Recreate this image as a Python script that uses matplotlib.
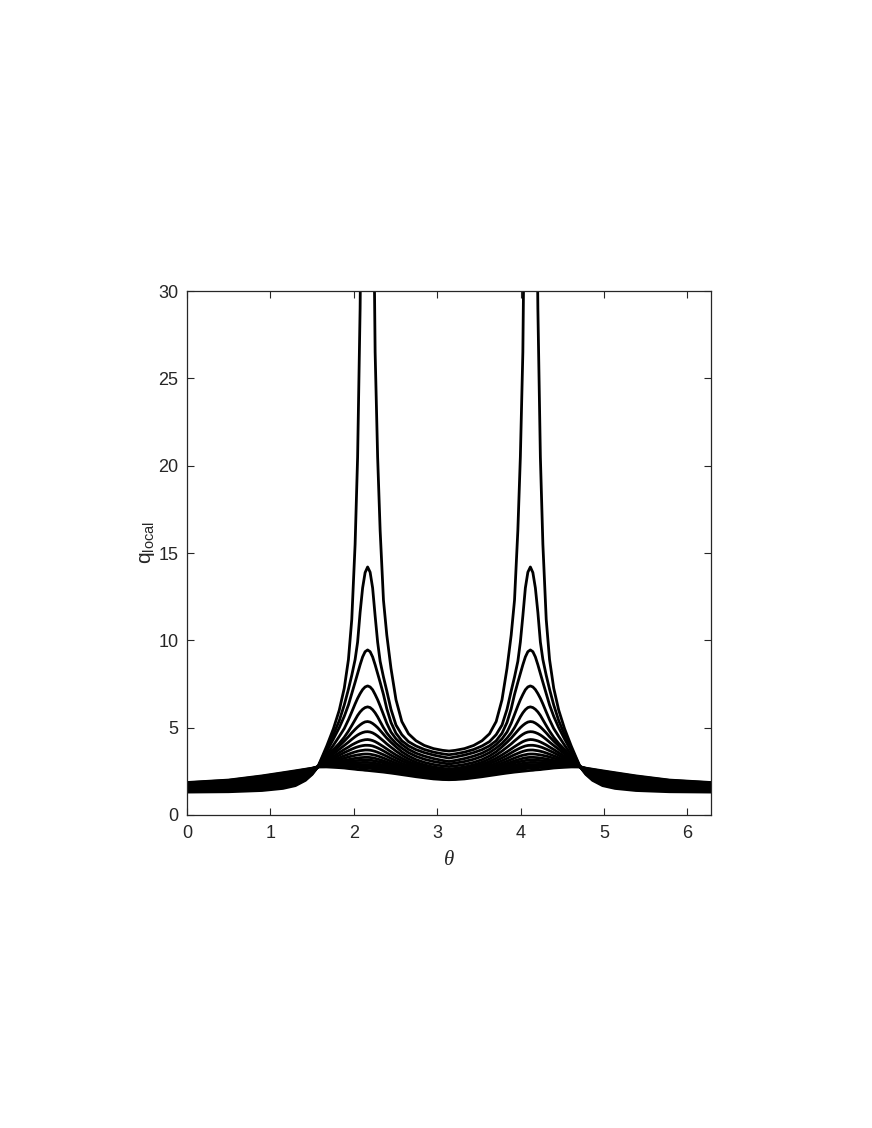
import numpy as np
import matplotlib
matplotlib.use("Agg")
import matplotlib.pyplot as plt

plt.rcParams['font.family'] = ['Liberation Sans', 'DejaVu Sans']
plt.rcParams['mathtext.fontset'] = 'custom'
plt.rcParams['mathtext.rm'] = 'Liberation Sans'
plt.rcParams['mathtext.it'] = 'Liberation Sans:italic'

# half curves on [0, pi]; the other half is the mirror image about pi
theta_half = [0, 0.5, 0.9, 1.15, 1.3, 1.42, 1.5,
              1.57, 1.676, 1.756, 1.826, 1.886, 1.936, 1.976, 2.016, 2.046, 2.076, 2.106, 2.136,
              2.166,
              2.196, 2.226, 2.256, 2.286, 2.316, 2.356, 2.396, 2.446, 2.506, 2.576, 2.656, 2.746,
              2.846, 2.956, 3.066, 3.1416]

# outermost surface (its peaks run off the top of the axes)
theta_sep = [0, 0.5, 0.9, 1.15, 1.3, 1.42, 1.5,
             1.57, 1.676, 1.756, 1.826, 1.886, 1.936, 1.976, 2.016, 2.046, 2.076, 2.091, 2.106, 2.136,
             2.166,
             2.196, 2.226, 2.241, 2.256, 2.286, 2.316, 2.356, 2.396, 2.446, 2.506, 2.576, 2.656, 2.746,
             2.846, 2.956, 3.066, 3.1416]
q_sep = [1.31, 1.33, 1.40, 1.52, 1.68, 1.98, 2.32,
         2.76, 3.95, 4.94, 6.00, 7.26, 8.9, 11.2, 15.5, 20.5, 29.0, 36.0, 44.6, 119.6,
         300,
         119.6, 44.5, 33.5, 26.5, 20.5, 16.3, 12.3, 10.3, 8.4, 6.6, 5.35, 4.65, 4.25,
         3.98, 3.80, 3.70, 3.66]

q_curves = [
    [1.36, 1.39, 1.48, 1.60, 1.76, 2.04, 2.35,
     2.76, 3.80, 4.60, 5.40, 6.30, 7.20, 8.00, 8.90, 9.90, 11.6, 13.0, 13.88, 14.20,
     13.90, 13.00, 11.40, 9.90, 8.80, 7.90, 7.10, 6.05, 5.15, 4.60, 4.20, 3.95, 3.75, 3.60, 3.50, 3.45],
    [1.41, 1.45, 1.55, 1.68, 1.83, 2.10, 2.39,
     2.76, 3.65, 4.35, 5.00, 5.65, 6.30, 6.95, 7.60, 8.10, 8.60, 9.05, 9.35, 9.45,
     9.35, 9.05, 8.60, 8.10, 7.60, 6.90, 6.08, 5.30, 4.68, 4.25, 3.96, 3.74, 3.57, 3.43, 3.32, 3.26],
    [1.46, 1.51, 1.63, 1.77, 1.91, 2.15, 2.42,
     2.76, 3.45, 4.00, 4.50, 4.95, 5.45, 5.90, 6.36, 6.68, 6.95, 7.18, 7.33, 7.39,
     7.33, 7.17, 6.90, 6.60, 6.25, 5.75, 5.25, 4.75, 4.36, 4.04, 3.76, 3.54, 3.37, 3.23, 3.12, 3.06],
    [1.51, 1.57, 1.71, 1.85, 1.99, 2.21, 2.45,
     2.76, 3.32, 3.75, 4.10, 4.45, 4.80, 5.12, 5.45, 5.70, 5.90, 6.05, 6.15, 6.19,
     6.15, 6.03, 5.85, 5.62, 5.35, 5.00, 4.70, 4.40, 4.10, 3.83, 3.57, 3.36, 3.19, 3.06, 2.97, 2.92],
    [1.55, 1.62, 1.77, 1.91, 2.05, 2.26, 2.48,
     2.76, 3.22, 3.62, 3.95, 4.23, 4.48, 4.70, 4.90, 5.04, 5.16, 5.26, 5.33, 5.35,
     5.32, 5.24, 5.13, 5.00, 4.84, 4.62, 4.40, 4.16, 3.90, 3.62, 3.38, 3.17, 3.01, 2.89, 2.81, 2.77],
    [1.59, 1.67, 1.83, 1.98, 2.11, 2.31, 2.50,
     2.76, 3.14, 3.49, 3.76, 3.98, 4.17, 4.33, 4.48, 4.58, 4.66, 4.72, 4.76, 4.77,
     4.75, 4.70, 4.62, 4.52, 4.40, 4.24, 4.07, 3.88, 3.66, 3.43, 3.21, 3.02, 2.87, 2.75, 2.67, 2.63],
    [1.63, 1.72, 1.89, 2.04, 2.17, 2.35, 2.53,
     2.76, 3.07, 3.35, 3.57, 3.75, 3.89, 4.01, 4.11, 4.18, 4.24, 4.28, 4.31, 4.32,
     4.30, 4.26, 4.20, 4.12, 4.03, 3.91, 3.78, 3.62, 3.44, 3.25, 3.06, 2.90, 2.76, 2.65, 2.56, 2.51],
    [1.66, 1.76, 1.93, 2.09, 2.22, 2.39, 2.55,
     2.76, 3.01, 3.24, 3.42, 3.57, 3.68, 3.77, 3.85, 3.90, 3.94, 3.97, 3.99, 3.99,
     3.98, 3.95, 3.90, 3.84, 3.77, 3.67, 3.56, 3.42, 3.27, 3.10, 2.94, 2.79, 2.66, 2.55, 2.46, 2.41],
    [1.69, 1.79, 1.98, 2.14, 2.27, 2.42, 2.57,
     2.76, 2.96, 3.13, 3.28, 3.39, 3.48, 3.55, 3.61, 3.65, 3.68, 3.70, 3.72, 3.72,
     3.71, 3.68, 3.64, 3.59, 3.53, 3.45, 3.36, 3.24, 3.11, 2.96, 2.82, 2.69, 2.57, 2.46, 2.37, 2.32],
    [1.72, 1.83, 2.03, 2.19, 2.31, 2.46, 2.59,
     2.76, 2.92, 3.05, 3.16, 3.25, 3.32, 3.37, 3.41, 3.44, 3.46, 3.48, 3.49, 3.49,
     3.48, 3.45, 3.42, 3.38, 3.33, 3.26, 3.18, 3.08, 2.97, 2.84, 2.71, 2.59, 2.48, 2.38, 2.30, 2.26],
    [1.74, 1.85, 2.06, 2.22, 2.34, 2.48, 2.60,
     2.76, 2.88, 2.98, 3.06, 3.12, 3.17, 3.21, 3.24, 3.26, 3.28, 3.29, 3.30, 3.30,
     3.29, 3.27, 3.24, 3.20, 3.16, 3.10, 3.03, 2.95, 2.85, 2.74, 2.62, 2.51, 2.41, 2.32, 2.25, 2.21],
    [1.76, 1.88, 2.09, 2.26, 2.38, 2.50, 2.61,
     2.76, 2.85, 2.92, 2.98, 3.03, 3.06, 3.09, 3.11, 3.12, 3.13, 3.14, 3.15, 3.15,
     3.14, 3.12, 3.09, 3.06, 3.03, 2.98, 2.92, 2.85, 2.76, 2.66, 2.55, 2.45, 2.35, 2.27, 2.20, 2.17],
    [1.78, 1.90, 2.12, 2.29, 2.41, 2.53, 2.63,
     2.76, 2.82, 2.87, 2.91, 2.94, 2.96, 2.98, 2.99, 3.00, 3.00, 3.01, 3.01, 3.01,
     3.00, 2.98, 2.96, 2.93, 2.90, 2.86, 2.81, 2.75, 2.67, 2.58, 2.49, 2.39, 2.30, 2.22, 2.16, 2.14],
    [1.80, 1.93, 2.15, 2.32, 2.44, 2.55, 2.64,
     2.76, 2.80, 2.83, 2.85, 2.87, 2.88, 2.89, 2.89, 2.89, 2.89, 2.89, 2.89, 2.89,
     2.88, 2.86, 2.84, 2.82, 2.79, 2.76, 2.71, 2.66, 2.59, 2.51, 2.43, 2.34, 2.26, 2.18, 2.13, 2.11],
    [1.82, 1.95, 2.18, 2.35, 2.47, 2.57, 2.65,
     2.76, 2.77, 2.78, 2.79, 2.80, 2.80, 2.80, 2.80, 2.80, 2.80, 2.79, 2.79, 2.78,
     2.77, 2.75, 2.73, 2.71, 2.69, 2.66, 2.62, 2.58, 2.52, 2.45, 2.38, 2.30, 2.22, 2.15, 2.10, 2.08],
    [1.84, 1.98, 2.21, 2.39, 2.50, 2.60, 2.67,
     2.76, 2.77, 2.78, 2.77, 2.76, 2.75, 2.74, 2.73, 2.72, 2.71, 2.70, 2.69, 2.68,
     2.67, 2.65, 2.63, 2.61, 2.60, 2.57, 2.54, 2.50, 2.45, 2.39, 2.33, 2.25, 2.18, 2.11, 2.07, 2.05],
    [1.86, 2.00, 2.24, 2.42, 2.53, 2.62, 2.68,
     2.76, 2.75, 2.73, 2.71, 2.69, 2.66, 2.64, 2.62, 2.60, 2.59, 2.58, 2.56, 2.55,
     2.535, 2.52, 2.505, 2.49, 2.475, 2.455, 2.43, 2.40, 2.36, 2.31, 2.255, 2.19, 2.13, 2.065, 2.03, 2.02],
]


def full_curve(th, q):
    th = np.array(th)
    q = np.array(q)
    th_all = np.concatenate([th, 2 * np.pi - th[::-1][1:]])
    q_all = np.concatenate([q, q[::-1][1:]])
    return th_all, q_all


fig = plt.figure(figsize=(8.72, 11.28), dpi=100)
ax = fig.add_axes([0.2144, 0.2775, 0.601, 0.4645])

lw = 2.0
x, y = full_curve(theta_sep, q_sep)
ax.plot(x, y, color='k', linewidth=lw)
for q in q_curves:
    x, y = full_curve(theta_half, q)
    ax.plot(x, y, color='k', linewidth=lw)

ax.set_xlim(0, 2 * np.pi)
ax.set_ylim(0, 30)
ax.set_xticks([0, 1, 2, 3, 4, 5, 6])
ax.set_yticks([0, 5, 10, 15, 20, 25, 30])
ax.tick_params(direction='in', top=True, right=True, length=5, width=0.8,
               labelsize=13, colors='#262626')
ax.tick_params(axis='x', pad=7.5)
ax.tick_params(axis='y', pad=6)
for s in ax.spines.values():
    s.set_linewidth(0.9)
    s.set_color('#262626')

ax.set_xlabel('θ', family='Liberation Serif', style='italic', fontsize=15, color='#262626')
ax.set_ylabel(r'q$_{\mathrm{local}}$', fontsize=15, color='#262626')
ax.xaxis.set_label_coords(0.5, -0.068)
ax.yaxis.set_label_coords(-0.058, 0.52)

fig.savefig('out.png', dpi=100)
